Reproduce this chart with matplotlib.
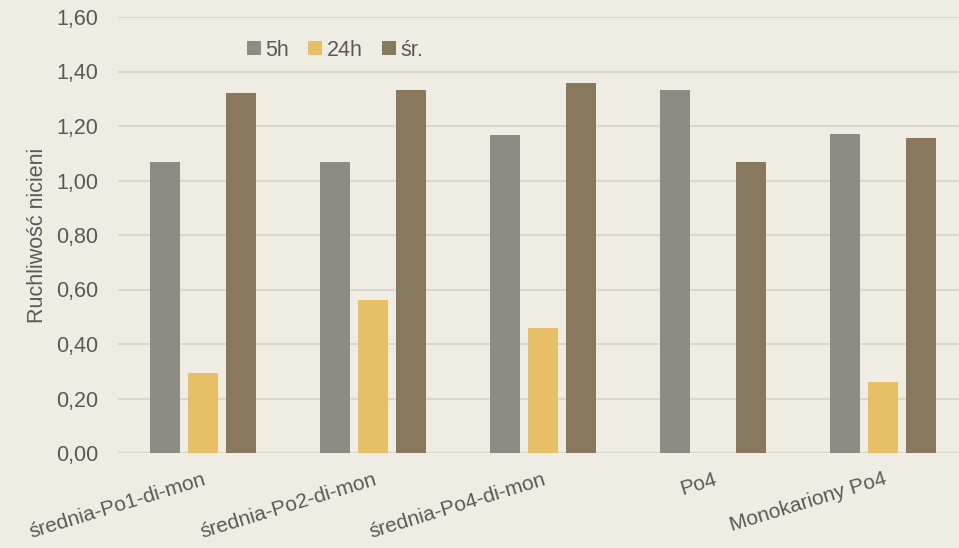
import matplotlib.pyplot as plt
import numpy as np

categories = ['średnia-Po1-di-mon', 'średnia-Po2-di-mon', 'średnia-Po4-di-mon',
              'Po4', 'Monokariony Po4']
series = ['5h', '24h', 'śr.']
v_5h = [1.068, 1.068, 1.167, 1.332, 1.171]
v_24h = [0.294, 0.561, 0.459, 0.0, 0.261]
v_sr = [1.321, 1.332, 1.358, 1.068, 1.156]
yticks = [0.0, 0.2, 0.4, 0.6, 0.8, 1.0, 1.2, 1.4, 1.6]

bg = '#EFECE3'
colors = ['#8C8C84', '#E6BF66', '#88795E']
txt = '#595959'

plt.rcParams['font.family'] = ['Liberation Sans', 'DejaVu Sans']

fig = plt.figure(figsize=(9.59, 5.48), dpi=100, facecolor=bg)
ax = fig.add_axes([118/959, 95/548, 850/959, 436/548], facecolor=bg)

x = np.arange(len(categories))
w = 30/170
step = 38/170
for i, (vals, name) in enumerate(zip([v_5h, v_24h, v_sr], series)):
    ax.bar(x + (i - 1)*step, vals, w, color=colors[i], label=name, zorder=3)

ax.set_xlim(-0.5, len(categories) - 0.5)
ax.set_ylim(0, 1.6)
ax.set_yticks(yticks)
ax.set_yticklabels([f'{t:.2f}'.replace('.', ',') for t in yticks],
                   fontsize=15.5, color=txt)
ax.yaxis.grid(True, color='#DAD7CF', linewidth=1.5, zorder=0)
ax.set_xticks(x)
ax.set_xticklabels(categories, rotation=17, ha='right', rotation_mode='anchor',
                   fontsize=15, color=txt)
ax.tick_params(axis='y', length=0, pad=14)
ax.tick_params(axis='x', length=0, pad=12)
for s in ax.spines.values():
    s.set_visible(False)
ax.axhline(0, color='#DAD7CF', linewidth=1.5, zorder=2)

ax.set_ylabel('Ruchliwość nicieni', fontsize=15.5, color=txt, labelpad=6)

leg = ax.legend(loc='center', bbox_to_anchor=(335/959, 1 - 50/548),
                bbox_transform=fig.transFigure, ncol=3, frameon=False,
                fontsize=15.5, handlelength=0.65, handleheight=0.65,
                handletextpad=0.2, columnspacing=0.9)
for t in leg.get_texts():
    t.set_color(txt)

fig.savefig('out.png', dpi=100, facecolor=bg)
